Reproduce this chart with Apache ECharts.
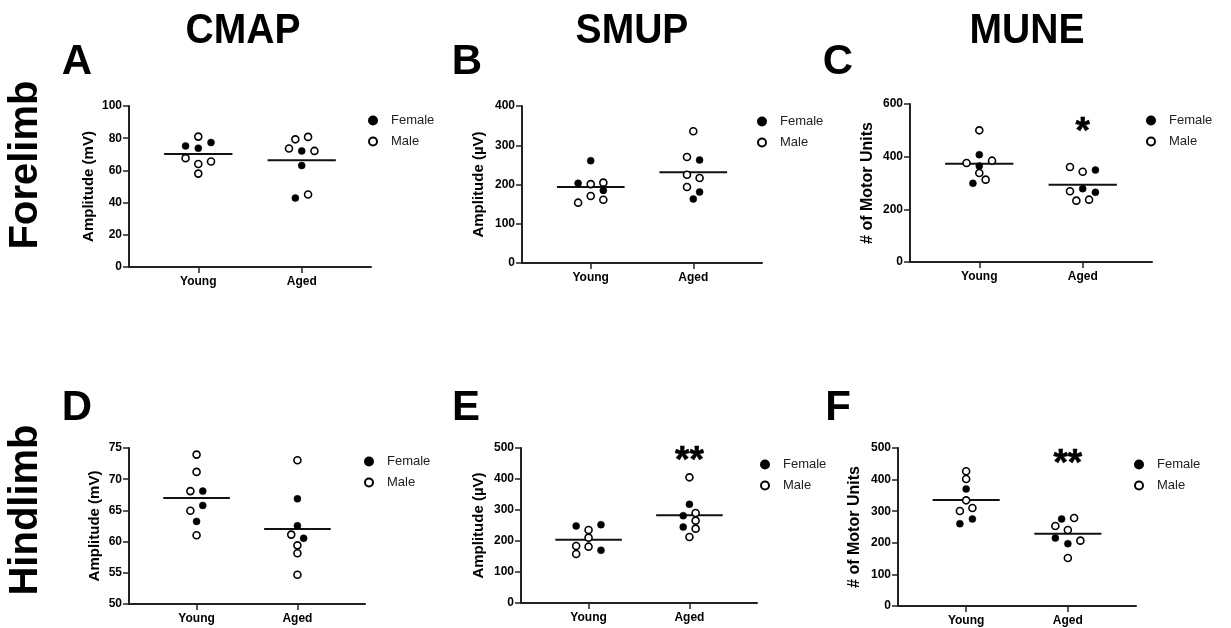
<!DOCTYPE html>
<html>
<head>
<meta charset="utf-8">
<script src="https://cdn.jsdelivr.net/npm/echarts@6/dist/echarts.min.js"></script>
<style>
html,body{margin:0;padding:0;background:#fff;}
#chart{width:1231px;height:628px;}
</style>
</head>
<body>
<div id="chart"></div>
<script>
// ---------- data ----------
const categories = ['Young', 'Aged'];
const columnTitles = ['CMAP', 'SMUP', 'MUNE'];
const rowTitles = ['Forelimb', 'Hindlimb'];
const panelLetters = ['A', 'B', 'C', 'D', 'E', 'F'];
const yAxisNames = ['Amplitude (mV)', 'Amplitude (\u00b5V)', '# of Motor Units',
                    'Amplitude (mV)', 'Amplitude (\u00b5V)', '# of Motor Units'];
const yMin = [0, 0, 0, 50, 0, 0];
const yMax = [100, 400, 600, 75, 500, 500];
const yStep = [20, 100, 200, 5, 100, 100];

// each point: [group (1 = Young, 2 = Aged), jitter column, value]
const femaleA = [[1,-1,75.2],[1,0,73.8],[1,1,77.3],[2,0,72.1],[2,0,63.0],[2,-0.5,42.8]];
const maleA   = [[1,0,81.0],[1,-1,67.6],[1,0,64.0],[1,1,65.5],[1,0,58.0],
                 [2,-1,73.6],[2,-0.5,79.3],[2,0.5,80.8],[2,1,72.1],[2,0.5,45.0]];
const meanA = [70.2, 66.3];

const femaleB = [[1,0,260.7],[1,-1,203.0],[1,1,185.0],[2,0.5,262.4],[2,0.5,180.9],[2,0,163.0]];
const maleB   = [[1,0,201.0],[1,1,204.7],[1,0,170.7],[1,1,161.0],[1,-1,153.7],
                 [2,0,335.5],[2,-0.5,270.0],[2,-0.5,225.0],[2,0.5,216.6],[2,-0.5,193.6]];
const meanB = [193.6, 231.0];

const femaleC = [[1,0,407.6],[1,0,364.6],[1,-0.5,298.7],[2,1,349.4],[2,0,278.5],[2,1,264.6]];
const maleC   = [[1,0,500.0],[1,-1,376.0],[1,1,384.8],[1,0,338.0],[1,0.5,312.7],
                 [2,-1,360.8],[2,0,343.0],[2,-1,268.4],[2,-0.5,233.0],[2,0.5,236.7]];
const meanC = [373.4, 293.7];

const femaleD = [[1,0.5,68.09],[1,0.5,65.8],[1,0,63.24],[2,0,66.86],[2,0,62.55],[2,0.5,60.53]];
const maleD   = [[1,0,73.94],[1,0,71.17],[1,-0.5,68.09],[1,-0.5,64.95],[1,0,61.01],
                 [2,0,73.03],[2,-0.5,61.12],[2,0,59.4],[2,0,58.14],[2,0,54.68]];
const meanD = [67.0, 62.0];

const femaleE = [[1,-1,248.4],[1,1,252.7],[1,1,169.9],[2,0,318.3],[2,-0.5,281.7],[2,-0.5,245.2]];
const maleE   = [[1,0,235.5],[1,0,210.8],[1,-1,183.9],[1,0,181.7],[1,-1,158.0],
                 [2,0,405.4],[2,0.5,290.3],[2,0.5,265.6],[2,0.5,239.8],[2,0,212.9]];
const meanE = [204.3, 282.8];

const femaleF = [[1,0,370.3],[1,0.5,275.3],[1,-0.5,260.5],[2,-0.5,275.3],[2,-1,215.2],[2,0,197.3]];
const maleF   = [[1,0,426.2],[1,0,401.9],[1,0,334.4],[1,0.5,310.1],[1,-0.5,300.6],
                 [2,0.5,278.5],[2,-1,253.2],[2,0,240.5],[2,1,206.8],[2,0,151.9]];
const meanF = [335.4, 228.9];

const sigMarks = ['', '', '*', '', '**', '**'];
const sigLevel = [null, null, 491, null, 457, 446];

const femaleAll = [femaleA, femaleB, femaleC, femaleD, femaleE, femaleF];
const maleAll = [maleA, maleB, maleC, maleD, maleE, maleF];
const meanAll = [meanA, meanB, meanC, meanD, meanE, meanF];

// ---------- layout / style ----------
const FONT = '"Liberation Sans", Arial, Helvetica, sans-serif';
const JIT = 0.123;     // horizontal spread per jitter column
const HALF = 0.33;     // half width of mean bar
const grids = [
  {left: 129, top: 106, width: 242, height: 161},
  {left: 522, top: 106, width: 240, height: 157},
  {left: 910, top: 104, width: 242, height: 158},
  {left: 129, top: 448, width: 236, height: 156},
  {left: 521, top: 448, width: 236, height: 155},
  {left: 898, top: 448, width: 238, height: 158}
];
const nameGaps = [33, 36, 34, 27, 35, 35];
const nameSizes = [15, 15, 16, 15, 15, 16];
const legendPos = [
  {left: 363, top: 109}, {left: 752, top: 110}, {left: 1141, top: 109},
  {left: 359, top: 450}, {left: 755, top: 453}, {left: 1129, top: 453}
];
const titlePos = [[243, 31], [632, 31], [1027, 31]];
const letterPos = [[77, 62], [467, 62], [838, 62], [77, 408], [466, 408], [838, 408]];
const rowPos = [[26, 165], [26, 510]];

const toXY = pts => pts.map(p => [p[0] + p[1] * JIT, p[2]]);

const xAxes = [], yAxes = [], series = [], legends = [];
for (let i = 0; i < 6; i++) {
  xAxes.push({
    type: 'value', gridIndex: i, min: 1 - 0.67, max: 2 + 0.67,
    axisLine: {show: true, lineStyle: {color: '#222', width: 2}},
    axisTick: {show: true, customValues: [1, 2], length: 6, lineStyle: {color: '#222', width: 1.5}},
    axisLabel: {show: true, customValues: [1, 2], formatter: v => categories[Math.round(v) - 1],
                color: '#000', fontFamily: FONT, fontWeight: 'bold', fontSize: 12, margin: 9},
    splitLine: {show: false}
  });
  yAxes.push({
    type: 'value', gridIndex: i, min: yMin[i], max: yMax[i], interval: yStep[i],
    name: yAxisNames[i], nameLocation: 'middle', nameRotate: 90, nameGap: nameGaps[i],
    nameTextStyle: {color: '#000', fontFamily: FONT, fontWeight: 'bold', fontSize: nameSizes[i]},
    axisLine: {show: true, lineStyle: {color: '#222', width: 2}},
    axisTick: {show: true, length: 6, lineStyle: {color: '#222', width: 1.5}},
    axisLabel: {color: '#000', fontFamily: FONT, fontWeight: 'bold', fontSize: 12, margin: 7},
    splitLine: {show: false}
  });
  meanAll[i].forEach((m, g) => {
    series.push({
      type: 'line', name: 'mean', xAxisIndex: i, yAxisIndex: i, z: 1,
      data: [[g + 1 - HALF, m], [g + 1 + HALF, m]],
      showSymbol: false, symbol: 'none', silent: true,
      lineStyle: {color: '#111', width: 2}
    });
  });
  series.push({
    type: 'scatter', name: 'Female', xAxisIndex: i, yAxisIndex: i, z: 3,
    data: toXY(femaleAll[i]), symbol: 'circle', symbolSize: 7,
    itemStyle: {color: '#000', borderColor: '#000', borderWidth: 0.5, opacity: 1}
  });
  series.push({
    type: 'scatter', name: 'Male', xAxisIndex: i, yAxisIndex: i, z: 3,
    data: toXY(maleAll[i]), symbol: 'circle', symbolSize: 7,
    itemStyle: {color: '#fff', borderColor: '#000', borderWidth: 1.6, opacity: 1}
  });
  if (sigMarks[i]) {
    series.push({
      type: 'scatter', name: 'sig', xAxisIndex: i, yAxisIndex: i, z: 4, silent: true,
      data: [[2, sigLevel[i]]], symbol: 'circle', symbolSize: 1,
      itemStyle: {color: '#fff', opacity: 0},
      label: {show: true, position: 'inside', formatter: sigMarks[i], opacity: 1,
              fontFamily: FONT, fontWeight: 'bold', fontSize: 37, color: '#000',
              textBorderWidth: 0.6, textBorderColor: '#000'}
    });
  }
  legends.push({
    orient: 'vertical', left: legendPos[i].left, top: legendPos[i].top,
    itemWidth: 26, itemHeight: 8, itemGap: 8, selectedMode: false,
    data: ['Female', 'Male'],
    textStyle: {color: '#222', fontFamily: FONT, fontSize: 13}
  });
}

const graphics = [];
columnTitles.forEach((t, k) => graphics.push({
  type: 'text', x: titlePos[k][0], y: titlePos[k][1], scaleX: 0.93,
  style: {text: t, font: 'bold 42px ' + FONT, fill: '#000', textAlign: 'center', textVerticalAlign: 'middle'}
}));
panelLetters.forEach((t, k) => graphics.push({
  type: 'text', x: letterPos[k][0], y: letterPos[k][1],
  style: {text: t, font: 'bold 42px ' + FONT, fill: '#000', textAlign: 'center', textVerticalAlign: 'middle'}
}));
rowTitles.forEach((t, k) => graphics.push({
  type: 'text', x: rowPos[k][0], y: rowPos[k][1], rotation: Math.PI / 2,
  style: {text: t, font: 'bold 40px ' + FONT, fill: '#000', textAlign: 'center', textVerticalAlign: 'middle'}
}));

const chart = echarts.init(document.getElementById('chart'), null, {renderer: 'canvas'});
chart.setOption({
  backgroundColor: '#fff',
  animation: false,
  grid: grids,
  xAxis: xAxes,
  yAxis: yAxes,
  legend: legends,
  series: series,
  graphic: graphics
});
</script>
</body>
</html>
